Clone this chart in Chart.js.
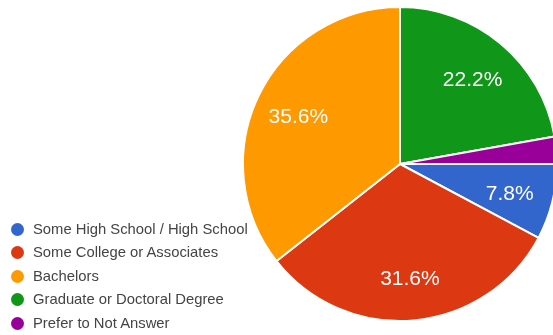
<!DOCTYPE html>
<html>
<head>
<meta charset="utf-8">
<script src="https://cdn.jsdelivr.net/npm/chart.js@4"></script>
<style>
  html, body { margin: 0; padding: 0; background: #fff; overflow: hidden; }
  body { width: 553px; height: 335px; position: relative; font-family: "Liberation Sans", Arial, sans-serif; }
  #pieBox { position: absolute; left: 242px; top: 6px; width: 316px; height: 316px; }
  #legend { position: absolute; left: 11px; top: 218px; margin: 0; padding: 0; list-style: none; }
  #legend li { height: 23.4px; line-height: 23.4px; font-size: 14.8px; color: #444; white-space: nowrap; }
  #legend .dot { display: inline-block; width: 13px; height: 13px; border-radius: 50%; vertical-align: -2px; margin-right: 9px; }
</style>
</head>
<body>
<div id="pieBox"><canvas id="chartPie"></canvas></div>
<ul id="legend"></ul>
<script>
// categories in legend order
const categorias = ['Some High School / High School', 'Some College or Associates', 'Bachelors', 'Graduate or Doctoral Degree', 'Prefer to Not Answer'];
const porcentajes = [7.8, 31.6, 35.6, 22.2, 2.8];
const colores = ['#3366cc', '#dc3912', '#ff9900', '#109618', '#990099'];
// slices go clockwise from 12 o'clock in this order
const ordenPastel = [3, 4, 0, 1, 2];

const legend = document.getElementById('legend');
categorias.forEach((cat, i) => {
    const li = document.createElement('li');
    li.innerHTML = `<span class="dot" style="background:${colores[i]}"></span>${cat}`;
    legend.appendChild(li);
});

// percentage text inside each slice (tiny slices get none)
const etiquetasPlugin = {
    id: 'etiquetas',
    afterDatasetsDraw(chart) {
        const ctx = chart.ctx;
        const meta = chart.getDatasetMeta(0);
        const data = chart.data.datasets[0].data;
        ctx.save();
        ctx.fillStyle = '#ffffff';
        ctx.font = '21px "Liberation Sans", Arial, sans-serif';
        ctx.textAlign = 'center';
        ctx.textBaseline = 'middle';
        meta.data.forEach((arc, i) => {
            if (data[i] < 5) return;
            const p = arc.getProps(['x', 'y', 'startAngle', 'endAngle', 'outerRadius']);
            const mid = (p.startAngle + p.endAngle) / 2;
            const r = p.outerRadius * 0.72;
            ctx.fillText(data[i].toFixed(1) + '%', p.x + Math.cos(mid) * r, p.y + Math.sin(mid) * r + 3);
        });
        ctx.restore();
    }
};

new Chart(document.getElementById('chartPie').getContext('2d'), {
    type: 'pie',
    data: {
        labels: ordenPastel.map(i => categorias[i]),
        datasets: [{
            data: ordenPastel.map(i => porcentajes[i]),
            backgroundColor: ordenPastel.map(i => colores[i]),
            borderColor: '#ffffff',
            borderWidth: 2
        }]
    },
    options: {
        responsive: true,
        maintainAspectRatio: false,
        animation: false,
        plugins: {
            legend: { display: false },
            tooltip: { enabled: false }
        }
    },
    plugins: [etiquetasPlugin]
});
</script>
</body>
</html>
